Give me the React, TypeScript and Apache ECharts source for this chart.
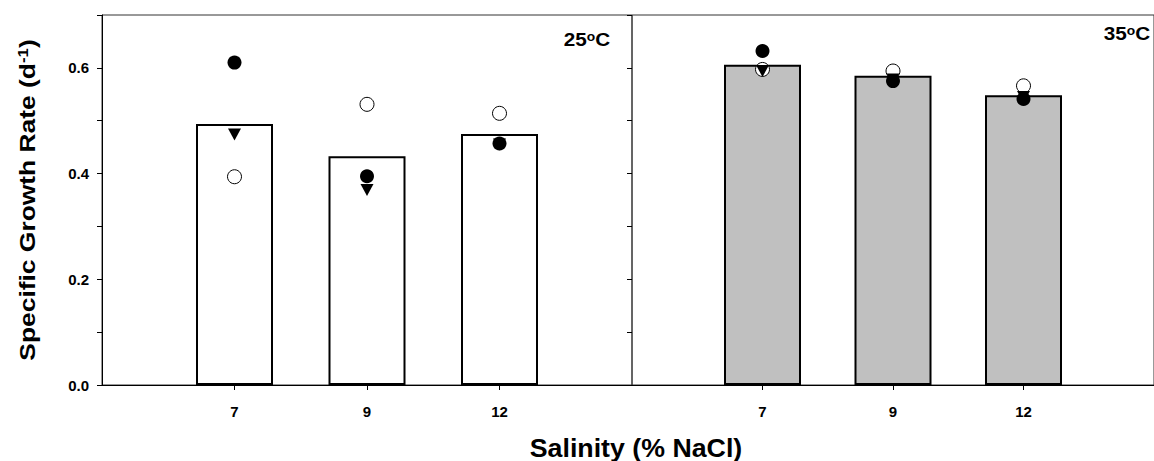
import React, { useEffect, useRef } from 'react';
import * as echarts from 'echarts';

// Salinity categories (tick labels) and their positions on each panel's x scale
const salinityLabels = ['7', '9', '12'];
const salinityPos = [1, 2, 3];

// 25 °C panel
const bars25 = [0.494, 0.433, 0.475];
const filled25 = [0.61, 0.395, 0.457];
const open25 = [0.394, 0.531, 0.514];
const tri25 = [0.474, 0.369, 0.455];

// 35 °C panel
const bars35 = [0.606, 0.585, 0.548];
const filled35 = [0.632, 0.575, 0.541];
const open35 = [0.597, 0.594, 0.566];
const tri35 = [0.594, 0.578, 0.545];

const yMin = 0;
const yMax = 0.7;
const yStep = 0.1;

const panelTitles = ['25', '35'];
const xTitle = 'Salinity (% NaCl)';

export default function App() {
  const ref = useRef<HTMLDivElement>(null);

  useEffect(() => {
    const chart = echarts.init(ref.current!, null, { renderer: 'svg' });
    const tickFont = {
      fontFamily: 'Liberation Sans',
      fontWeight: 'bold' as const,
      fontSize: 15,
      color: '#000',
    };
    const pts = (vals: number[]) => salinityPos.map((x, i) => [x, vals[i]]);

    const xAxis = (gridIndex: number) => ({
      type: 'value',
      gridIndex,
      min: 0,
      max: 4,
      axisLine: { show: true, onZero: false, lineStyle: { color: '#000', width: 1 } },
      axisTick: {
        show: true,
        customValues: salinityPos,
        length: 5,
        inside: false,
        lineStyle: { color: '#000' },
      },
      axisLabel: {
        show: true,
        customValues: salinityPos,
        formatter: (v: number) => {
          const i = salinityPos.indexOf(v);
          return i >= 0 ? salinityLabels[i] : '';
        },
        margin: 19,
        ...tickFont,
      },
      splitLine: { show: false },
    });

    const barSeries = (xi: number, yi: number, vals: number[], fill: string) => ({
      type: 'bar',
      xAxisIndex: xi,
      yAxisIndex: yi,
      data: pts(vals),
      barWidth: 77,
      itemStyle: { color: fill, borderColor: '#000', borderWidth: 2, opacity: 1 },
      z: 2,
    });
    const scat = (xi: number, yi: number, vals: number[], kind: 'open' | 'tri' | 'filled') => ({
      type: 'scatter',
      xAxisIndex: xi,
      yAxisIndex: yi,
      data: pts(vals),
      symbol: kind === 'tri' ? 'triangle' : 'circle',
      symbolRotate: kind === 'tri' ? 180 : 0,
      symbolSize: kind === 'tri' ? [13, 12] : 14,
      itemStyle:
        kind === 'open'
          ? { color: '#fff', borderColor: '#000', borderWidth: 1, opacity: 1 }
          : { color: '#000', opacity: 1 },
      z: kind === 'open' ? 3 : kind === 'tri' ? 4 : 5,
    });

    const supRich = {
      n: { fontFamily: 'Liberation Sans', fontWeight: 'bold', fontSize: 18, fill: '#000' },
      s: {
        fontFamily: 'Liberation Sans',
        fontWeight: 'bold',
        fontSize: 12,
        fill: '#000',
        verticalAlign: 'top',
        padding: [0, 0, 6, 0],
      },
    };

    chart.setOption({
      animation: false,
      backgroundColor: '#fff',
      grid: [
        { left: 102, top: 15, width: 530, height: 370, show: true, borderColor: '#333', borderWidth: 1, backgroundColor: 'transparent' },
        { left: 632, top: 15, width: 530, height: 370, show: true, borderColor: '#333', borderWidth: 1, backgroundColor: 'transparent' },
      ],
      xAxis: [xAxis(0), xAxis(1)],
      yAxis: [
        {
          type: 'value',
          gridIndex: 0,
          min: yMin,
          max: yMax,
          interval: yStep,
          position: 'left',
          axisLine: { show: true, lineStyle: { color: '#000' } },
          axisTick: { show: true, length: 5, inside: false, lineStyle: { color: '#000' } },
          axisLabel: {
            margin: 13,
            formatter: (v: number) => (Math.round(v * 10) % 2 === 0 ? v.toFixed(1) : ''),
            ...tickFont,
          },
          splitLine: { show: false },
        },
        {
          type: 'value',
          gridIndex: 0,
          min: yMin,
          max: yMax,
          interval: yStep,
          position: 'right',
          axisLine: { show: false },
          axisTick: { show: true, length: 5, inside: true, lineStyle: { color: '#000' } },
          axisLabel: { show: false },
          splitLine: { show: false },
        },
        {
          type: 'value',
          gridIndex: 1,
          min: yMin,
          max: yMax,
          interval: yStep,
          axisLine: { show: false },
          axisTick: { show: false },
          axisLabel: { show: false },
          splitLine: { show: false },
        },
      ],
      series: [
        barSeries(0, 0, bars25, '#ffffff'),
        scat(0, 0, open25, 'open'),
        scat(0, 0, tri25, 'tri'),
        scat(0, 0, filled25, 'filled'),
        barSeries(1, 2, bars35, '#c0c0c0'),
        scat(1, 2, open35, 'open'),
        scat(1, 2, tri35, 'tri'),
        scat(1, 2, filled35, 'filled'),
      ],
      graphic: [
        {
          type: 'text',
          x: 587,
          y: 40,
          scaleX: 1.15,
          style: {
            text: `{n|${panelTitles[0]}}{s|o}{n|C}`,
            rich: supRich,
            align: 'center',
            verticalAlign: 'middle',
          },
          z: 10,
        },
        {
          type: 'text',
          x: 1127,
          y: 34,
          scaleX: 1.15,
          style: {
            text: `{n|${panelTitles[1]}}{s|o}{n|C}`,
            rich: supRich,
            align: 'center',
            verticalAlign: 'middle',
          },
          z: 10,
        },
        {
          type: 'text',
          x: 27,
          y: 200,
          rotation: Math.PI / 2,
          scaleX: 1.2,
          style: {
            text: '{a|Specific Growth Rate (d}{b|-1}{a|)}',
            rich: {
              a: { fontFamily: 'Liberation Sans', fontWeight: 'bold', fontSize: 22, fill: '#000' },
              b: { fontFamily: 'Liberation Sans', fontWeight: 'bold', fontSize: 14, fill: '#000', verticalAlign: 'top', padding: [0, 0, 4, 0] },
            },
            align: 'center',
            verticalAlign: 'middle',
          },
        },
        {
          type: 'text',
          x: 636,
          y: 448,
          scaleX: 1.07,
          style: {
            text: xTitle,
            fontFamily: 'Liberation Sans',
            fontWeight: 'bold',
            fontSize: 25,
            fill: '#000',
            align: 'center',
            verticalAlign: 'middle',
          },
        },
      ],
    });
    return () => chart.dispose();
  }, []);

  return (
    <div
      ref={ref}
      style={{ position: 'absolute', left: 0, top: 0, width: 1154, height: 461 }}
    />
  );
}
